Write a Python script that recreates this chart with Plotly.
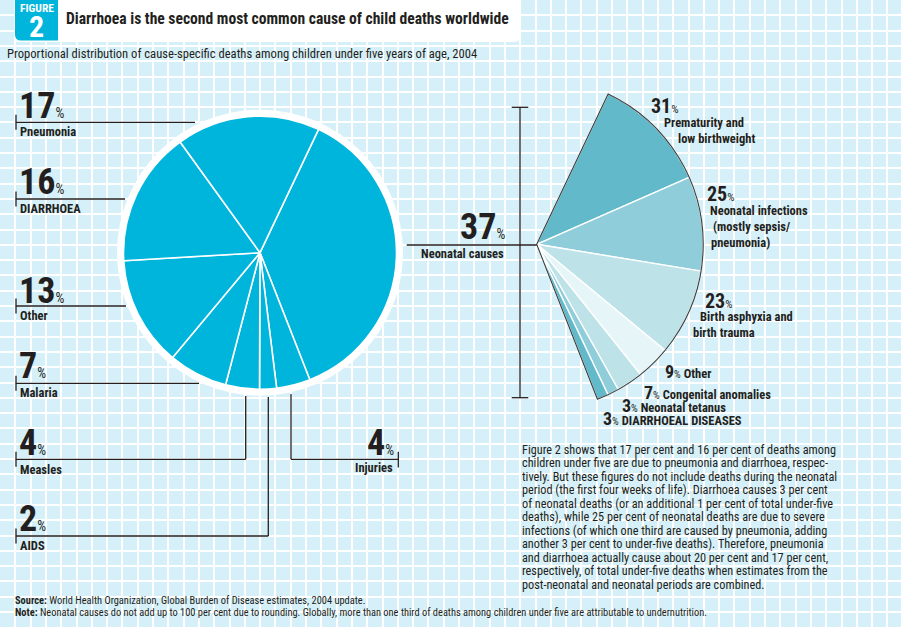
import plotly.graph_objects as go

# ---------------- data ----------------
main_labels = ["Neonatal causes", "Injuries", "AIDS", "Measles", "Malaria", "Other", "DIARRHOEA", "Pneumonia"]
main_values = [37, 4, 2, 4, 7, 13, 16, 17]

neo_labels = ["Prematurity and low birthweight", "Neonatal infections (mostly sepsis/ pneumonia)",
              "Birth asphyxia and birth trauma", "Other", "Congenital anomalies",
              "Neonatal tetanus", "DIARRHOEAL DISEASES"]
neo_values = [31, 25, 23, 9, 7, 3, 3]

title = "Diarrhoea is the second most common cause of child deaths worldwide"
subtitle = "Proportional distribution of cause-specific deaths among children under five years of age, 2004"
paragraph = [
    "Figure 2 shows that 17 per cent and 16 per cent of deaths among",
    "children under five are due to pneumonia and diarrhoea, respec-",
    "tively. But these figures do not include deaths during the neonatal",
    "period (the first four weeks of life). Diarrhoea causes 3 per cent",
    "of neonatal deaths (or an additional 1 per cent of total under-five",
    "deaths), while 25 per cent of neonatal deaths are due to severe",
    "infections (of which one third are caused by pneumonia, adding",
    "another 3 per cent to under-five deaths). Therefore, pneumonia",
    "and diarrhoea actually cause about 20 per cent and 17 per cent,",
    "respectively, of total under-five deaths when estimates from the",
    "post-neonatal and neonatal periods are combined.",
]
source = "World Health Organization, Global Burden of Disease estimates, 2004 update."
note = ("Neonatal causes do not add up to 100 per cent due to rounding. Globally, more than one third "
        "of deaths among children under five are attributable to undernutrition.")

# ---------------- style ----------------
W, H = 901, 627
FONT = "Roboto Condensed, Roboto, sans-serif"
DARK = "#231f20"
CYAN = "#00b5dc"
BG = "#d6f0f9"
neo_colors = ["#62b9c9", "#8ecdd9", "#bde2e8", "#e6f5f8", "#bde2e8", "#8ecdd9", "#62b9c9"]

pc_x, pc_y, pr = 260, 252.7, 136.5
ring_r = 143
fc_x, fc_y, fr = 536.7, 244.3, 166.5
start_rot = 25.4


def dom(cx, cy, r):
    return dict(x=[(cx - r) / W, (cx + r) / W], y=[1 - (cy + r) / H, 1 - (cy - r) / H])


fig = go.Figure()

fig.add_trace(go.Pie(
    values=main_values, labels=main_labels, sort=False, direction="clockwise",
    rotation=start_rot, domain=dom(pc_x, pc_y, pr), textinfo="none", showlegend=False,
    marker=dict(colors=[CYAN] * len(main_values), line=dict(color="white", width=1.6)),
    hoverinfo="label+value",
))

neo_share = main_values[main_labels.index("Neonatal causes")]
hidden = sum(neo_values) * (100 - neo_share) / neo_share
fig.add_trace(go.Pie(
    values=neo_values + [hidden], labels=neo_labels + [""], sort=False, direction="clockwise",
    rotation=start_rot, domain=dom(fc_x, fc_y, fr), textinfo="none", showlegend=False,
    marker=dict(colors=neo_colors + ["rgba(0,0,0,0)"],
                line=dict(color=["white"] * len(neo_values) + ["rgba(0,0,0,0)"],
                          width=[1.4] * len(neo_values) + [0])),
    hoverinfo="label+value",
))
fig.add_trace(go.Pie(
    values=[neo_share, 100 - neo_share], labels=["a", "b"], sort=False, direction="clockwise",
    rotation=start_rot, domain=dom(fc_x, fc_y, fr), textinfo="none", showlegend=False,
    marker=dict(colors=["rgba(0,0,0,0)", "rgba(0,0,0,0)"],
                line=dict(color=["#3b3b3b", "rgba(0,0,0,0)"], width=[1.1, 0])),
    hoverinfo="skip",
))

shapes = []
anns = []


def line(x0, y0, x1, y1, w=1.3, color=DARK):
    shapes.append(dict(type="line", xref="x", yref="y", x0=x0, y0=y0, x1=x1, y1=y1,
                       line=dict(color=color, width=w), layer="above"))


def T(x, y, text, size, xanchor="left", color=DARK, yanchor="middle", family=FONT):
    anns.append(dict(x=x, y=y, xref="x", yref="y", text=text, showarrow=False,
                     xanchor=xanchor, yanchor=yanchor, borderpad=0, align="left",
                     font=dict(size=size, color=color, family=family)))


def big(v, pct=14):
    return f"<b>{v}</b><span style='font-size:{pct}px'>%</span>"


# header
shapes.append(dict(type="path", xref="x", yref="y", path="M 15,-5 L 521,-5 L 521,35 Q 521,42 514,42 L 15,42 Z",
                   fillcolor="white", line=dict(width=0), layer="between"))
shapes.append(dict(type="path", xref="x", yref="y", path="M 15,-5 L 58,-5 L 58,40.5 L 21,40.5 Q 15,40.5 15,34.5 Z",
                   fillcolor=CYAN, line=dict(width=0), layer="between"))
T(36.5, 8, "<b>FIGURE</b>", 11.5, xanchor="center", color="white")
T(36.5, 26, "<b>2</b>", 30, xanchor="center", color="white")
T(65, 18.6, f"<b>{title}</b>", 15.6)
T(6, 53, subtitle, 12.6)

shapes.append(dict(type="circle", xref="x", yref="y", x0=pc_x - ring_r, x1=pc_x + ring_r,
                   y0=pc_y - ring_r, y1=pc_y + ring_r, fillcolor="white", line=dict(width=0), layer="between"))

val = dict(zip(main_labels, main_values))
left = [
    ("Pneumonia", 105.5, 122.3, 131.5, 195, None),
    ("DIARRHOEA", 182, 199, 208, 125, None),
    ("Other", 291, 306, 315, 126, None),
    ("Malaria", 365.5, 383.3, 392, 199, None),
    ("Measles", 442.5, 459.3, 469, 245.7, 396),
    ("AIDS", 519, 536, 545.5, 268.3, 397),
]
for lab, ny, ly, ty, xe, vy in left:
    T(18, ny, big(val[lab]), 36)
    T(19, ty, f"<b>{lab}</b>", 12.5)
    line(16, ly, xe, ly)
    line(16, ly - 7.5, 16, ly + 7.5)
    if vy is not None:
        line(xe, ly, xe, vy)

T(395, 442.5, big(val["Injuries"]), 36, xanchor="right")
T(394, 467, "<b>Injuries</b>", 12.5, xanchor="right")
line(291, 459.3, 398.3, 459.3)
line(291, 459.3, 291, 394)
line(398.3, 451.8, 398.3, 467.5)

T(506, 227, big(neo_share), 36, xanchor="right")
T(505, 253.5, "<b>Neonatal causes</b>", 12.5, xanchor="right")
line(406.7, 245, fc_x, 245)
line(520, 107.3, 520, 397.7)
line(511.7, 107.3, 528.3, 107.3)
line(511.7, 397.7, 528.3, 397.7)

nv = neo_values
T(650, 105.5, big(nv[0], 11.5), 20)
T(663, 122.7, "<b>Prematurity and</b>", 12.5)
T(676.5, 138.3, "<b>low birthweight</b>", 12.5)
T(705.5, 193.5, big(nv[1], 11.5), 20)
T(709, 210.7, "<b>Neonatal infections</b>", 12.5)
T(711.5, 226.7, "<b>(mostly sepsis/</b>", 12.5)
T(710, 242.3, "<b>pneumonia)</b>", 12.5)
T(703.5, 300.5, big(nv[2], 11.5), 20)
T(699, 316.7, "<b>Birth asphyxia and</b>", 12.5)
T(691.5, 332.3, "<b>birth trauma</b>", 12.5)


def inline(v, lab, sz=18):
    return f"<span style='font-size:{sz}px'><b>{v}</b></span><span style='font-size:10.5px'>%</span> <b>{lab}</b>"


T(663.5, 371, inline(nv[3], neo_labels[3]), 12.5)
T(642.5, 392, inline(nv[4], neo_labels[4]), 12.5)
T(621, 405.5, inline(nv[5], neo_labels[5]), 12.5)
T(602, 418.5, inline(nv[6], neo_labels[6]), 12.5)

for i, ln in enumerate(paragraph):
    T(521, 450 + i * 13.45, ln, 12.25)

T(14, 600, f"<b>Source:</b> {source}", 10.4)
T(14, 612, f"<b>Note:</b> {note}", 10.4)

fig.update_layout(
    width=W, height=H, autosize=False,
    margin=dict(l=0, r=0, t=0, b=0),
    paper_bgcolor=BG, plot_bgcolor=BG,
    xaxis=dict(range=[0, W], showgrid=True, gridcolor="white", gridwidth=1.6, dtick=15.3, tick0=0,
               showticklabels=False, zeroline=False, fixedrange=True, showline=False, ticks=""),
    yaxis=dict(range=[H, 0], showgrid=True, gridcolor="white", gridwidth=1.6, dtick=15.3, tick0=0,
               showticklabels=False, zeroline=False, fixedrange=True, showline=False, ticks=""),
    shapes=shapes, annotations=anns, showlegend=False,
)

fig.write_html("out.html", config={"displayModeBar": False},
               post_script="document.body.style.margin='0';document.body.style.overflow='hidden';")
